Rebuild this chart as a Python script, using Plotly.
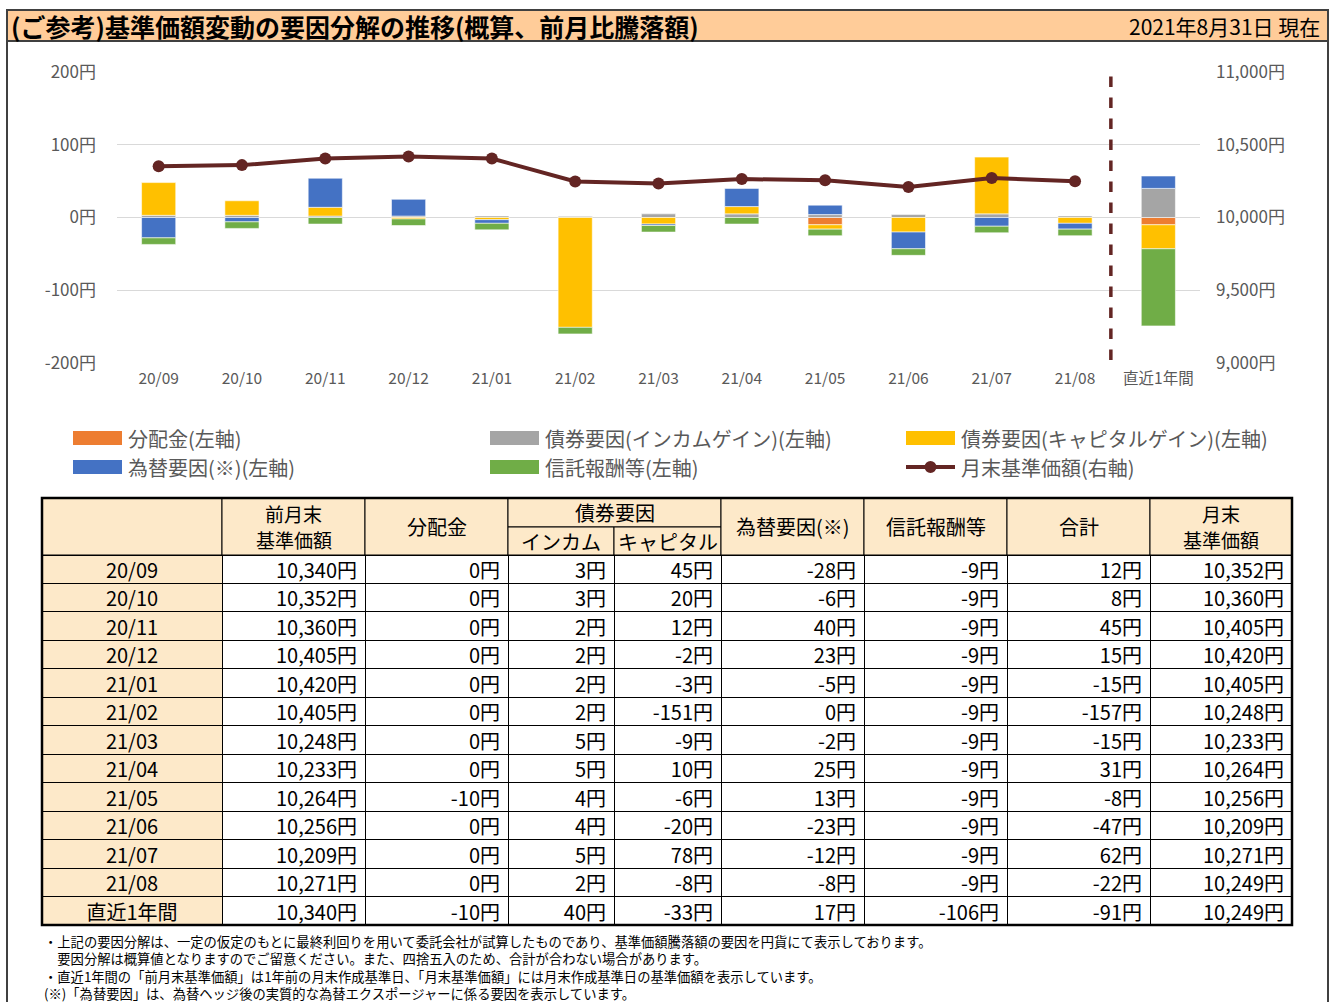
import plotly.graph_objects as go

W, H = 1336, 1002

# ---------------- data ----------------
categories = ["20/09", "20/10", "20/11", "20/12", "21/01", "21/02", "21/03",
              "21/04", "21/05", "21/06", "21/07", "21/08", "直近1年間"]
months = categories[:12]
prev_nav = [10340, 10352, 10360, 10405, 10420, 10405, 10248, 10233, 10264, 10256, 10209, 10271, 10340]
distribution = [0, 0, 0, 0, 0, 0, 0, 0, -10, 0, 0, 0, -10]
bond_income = [3, 3, 2, 2, 2, 2, 5, 5, 4, 4, 5, 2, 40]
bond_capital = [45, 20, 12, -2, -3, -151, -9, 10, -6, -20, 78, -8, -33]
fx_factor = [-28, -6, 40, 23, -5, 0, -2, 25, 13, -23, -12, -8, 17]
trust_fee = [-9, -9, -9, -9, -9, -9, -9, -9, -9, -9, -9, -9, -106]
total = [12, 8, 45, 15, -15, -157, -15, 31, -8, -47, 62, -22, -91]
month_end_nav = [10352, 10360, 10405, 10420, 10405, 10248, 10233, 10264, 10256, 10209, 10271, 10249, 10249]

left_ticks = [-200, -100, 0, 100, 200]
left_ticktext = ["-200円", "-100円", "0円", "100円", "200円"]
right_ticks = [9000, 9500, 10000, 10500, 11000]
right_ticktext = ["9,000円", "9,500円", "10,000円", "10,500円", "11,000円"]

series_names = ["分配金(左軸)", "債券要因(インカムゲイン)(左軸)", "債券要因(キャピタルゲイン)(左軸)",
                "為替要因(※)(左軸)", "信託報酬等(左軸)"]
series_values = [distribution, bond_income, bond_capital, fx_factor, trust_fee]
series_colors = ["#ED7D31", "#A5A5A5", "#FFC000", "#4472C4", "#70AD47"]
line_name = "月末基準価額(右軸)"
line_color = "#632523"

FONT = "Noto Sans CJK JP"
PEACH = "#FFCC99"
CREAM = "#FDE9C9"


def px(x):
    return x / W


def py(y):
    return 1 - y / H


fig = go.Figure()

for name, vals, col in zip(series_names, series_values, series_colors):
    fig.add_trace(go.Bar(x=categories, y=vals, name=name, marker_color=col,
                         marker_line=dict(color="rgba(255,255,255,0.7)", width=0.8),
                         showlegend=False, xaxis="x", yaxis="y"))

fig.add_trace(go.Scatter(x=months, y=month_end_nav[:12], name=line_name, mode="lines+markers",
                         line=dict(color=line_color, width=4),
                         marker=dict(color=line_color, size=12),
                         showlegend=False, xaxis="x", yaxis="y2"))

# ---------------- table ----------------
def yen(v):
    return f"{v:,}円"

cols = [categories,
        [yen(v) for v in prev_nav],
        [yen(v) for v in distribution],
        [yen(v) for v in bond_income],
        [yen(v) for v in bond_capital],
        [yen(v) for v in fx_factor],
        [yen(v) for v in trust_fee],
        [yen(v) for v in total],
        [yen(v) for v in month_end_nav]]

col_edges = [42, 222, 365, 508, 614, 721, 864, 1007, 1150, 1292]
col_widths = [col_edges[i + 1] - col_edges[i] for i in range(len(col_edges) - 1)]
tbl_top, hdr_mid, hdr_bot, tbl_bot = 498, 527, 555, 925
row_h = (tbl_bot - hdr_bot) / len(categories)
n = len(categories)
aligns = ["center"] + ["right"] * 8
cell_font = dict(family=FONT, size=20, color="black")

# first data row is carried by the table header (the real two-level header is drawn separately)
fig.add_trace(go.Table(
    domain=dict(x=[px(col_edges[0]), px(col_edges[-1])], y=[py(975), py(hdr_bot)]),
    columnwidth=col_widths,
    header=dict(values=[[c[0]] for c in cols],
                height=row_h,
                align=aligns,
                fill=dict(color=[CREAM] + ["white"] * 8),
                line=dict(color="black", width=1),
                font=cell_font),
    cells=dict(values=[c[1:] for c in cols],
               height=row_h,
               align=aligns,
               fill=dict(color=[[CREAM] * (n - 1)] + [["white"] * (n - 1)] * 8),
               line=dict(color="black", width=1),
               font=cell_font),
))

shapes = []
annotations = []

# outer frame and title bar
shapes.append(dict(type="rect", xref="paper", yref="paper", x0=px(7), x1=px(1328), y0=py(1003), y1=py(10),
                   line=dict(color="#404040", width=2), fillcolor="rgba(0,0,0,0)", layer="below"))
shapes.append(dict(type="rect", xref="paper", yref="paper", x0=px(7), x1=px(1328), y0=py(41), y1=py(10),
                   line=dict(color="#404040", width=2), fillcolor=PEACH, layer="below"))
annotations.append(dict(xref="paper", yref="paper", x=px(9), y=py(26), xanchor="left", yanchor="middle",
                        text="<b>(ご参考)基準価額変動の要因分解の推移(概算、前月比騰落額)</b>", showarrow=False,
                        font=dict(family=FONT, size=25, color="black")))
annotations.append(dict(xref="paper", yref="paper", x=px(1322), y=py(26), xanchor="right", yanchor="middle",
                        text="2021年8月31日 現在", showarrow=False,
                        font=dict(family=FONT, size=21, color="black")))

# dashed separator before the 1-year column
shapes.append(dict(type="line", xref="x", yref="paper", x0=11.43, x1=11.43, y0=py(360), y1=py(73),
                   line=dict(color=line_color, width=3.5, dash="dash")))

# custom legend
leg_cols = [73, 490, 906]
leg_rows = [438, 467]
legend_items = list(zip(series_names, series_colors)) + [(line_name, None)]
for i, (name, col) in enumerate(legend_items):
    cx = leg_cols[i % 3]
    cy = leg_rows[i // 3]
    if col is not None:
        shapes.append(dict(type="rect", xref="paper", yref="paper", x0=px(cx), x1=px(cx + 49),
                           y0=py(cy + 7), y1=py(cy - 7), fillcolor=col, line=dict(width=0)))
    else:
        shapes.append(dict(type="line", xref="paper", yref="paper", x0=px(cx), x1=px(cx + 49),
                           y0=py(cy), y1=py(cy), line=dict(color=line_color, width=4)))
        shapes.append(dict(type="circle", xref="paper", yref="paper", x0=px(cx + 18.5), x1=px(cx + 30.5),
                           y0=py(cy + 6), y1=py(cy - 6), fillcolor=line_color, line=dict(width=0)))
    annotations.append(dict(xref="paper", yref="paper", x=px(cx + 53), y=py(cy), xanchor="left",
                            yanchor="middle", text=name, showarrow=False,
                            font=dict(family=FONT, size=20, color="#595959")))

# table header (two levels, merged cells)
def hdr_cell(x0, x1, y0, y1, lines):
    shapes.append(dict(type="rect", xref="paper", yref="paper", x0=px(x0), x1=px(x1), y0=py(y1), y1=py(y0),
                       fillcolor=CREAM, line=dict(color="black", width=1)))
    k = len(lines)
    step = 26
    yc = (y0 + y1) / 2
    for j, t in enumerate(lines):
        yy = yc + (j - (k - 1) / 2) * step
        annotations.append(dict(xref="paper", yref="paper", x=px((x0 + x1) / 2), y=py(yy),
                                xanchor="center", yanchor="middle", text=t, showarrow=False,
                                font=dict(family=FONT, size=19 if k > 1 else 20, color="black")))

hdr_cell(col_edges[0], col_edges[1], tbl_top, hdr_bot, [])
hdr_cell(col_edges[1], col_edges[2], tbl_top, hdr_bot, ["前月末", "基準価額"])
hdr_cell(col_edges[2], col_edges[3], tbl_top, hdr_bot, ["分配金"])
hdr_cell(col_edges[3], col_edges[5], tbl_top, hdr_mid, ["債券要因"])
hdr_cell(col_edges[3], col_edges[4], hdr_mid, hdr_bot, ["インカム"])
hdr_cell(col_edges[4], col_edges[5], hdr_mid, hdr_bot, ["キャピタル"])
hdr_cell(col_edges[5], col_edges[6], tbl_top, hdr_bot, ["為替要因(※)"])
hdr_cell(col_edges[6], col_edges[7], tbl_top, hdr_bot, ["信託報酬等"])
hdr_cell(col_edges[7], col_edges[8], tbl_top, hdr_bot, ["合計"])
hdr_cell(col_edges[8], col_edges[9], tbl_top, hdr_bot, ["月末", "基準価額"])

# thick outer border of the table
shapes.append(dict(type="rect", xref="paper", yref="paper", x0=px(col_edges[0]), x1=px(col_edges[-1]),
                   y0=py(tbl_bot), y1=py(tbl_top), line=dict(color="black", width=2.5),
                   fillcolor="rgba(0,0,0,0)"))

# footnotes (one block, four lines)
notes = [
    "・上記の要因分解は、一定の仮定のもとに最終利回りを用いて委託会社が試算したものであり、基準価額騰落額の要因を円貨にて表示しております。",
    "　要因分解は概算値となりますのでご留意ください。また、四捨五入のため、合計が合わない場合があります。",
    "・直近1年間の「前月末基準価額」は1年前の月末作成基準日、「月末基準価額」には月末作成基準日の基準価額を表示しています。",
    "(※)「為替要因」は、為替ヘッジ後の実質的な為替エクスポージャーに係る要因を表示しています。",
]
annotations.append(dict(xref="paper", yref="paper", x=px(43), y=py(930.5), xanchor="left", yanchor="top",
                        align="left", text="<br>".join(notes), showarrow=False, borderpad=0,
                        font=dict(family=FONT, size=13.3, color="black")))

fig.update_layout(
    width=W, height=H,
    margin=dict(l=0, r=0, t=0, b=0, pad=0, autoexpand=False),
    paper_bgcolor="white", plot_bgcolor="white",
    barmode="relative", bargap=0.59,
    showlegend=False,
    font=dict(family=FONT),
    xaxis=dict(domain=[px(117), px(1200)], type="category", range=[-0.5, 12.5], autorange=False,
               automargin=False, showgrid=False, zeroline=False,
               showline=False, ticks="", tickfont=dict(size=15.5, color="#595959"), ticklabelstandoff=4),
    yaxis=dict(domain=[py(363), py(72)], range=[-200, 200], autorange=False, automargin=False,
               tickmode="array", tickvals=left_ticks, ticktext=left_ticktext,
               showgrid=True, gridcolor="#D9D9D9", gridwidth=1, zeroline=False, showline=False,
               tickfont=dict(size=17, color="#595959"), ticklabelstandoff=20),
    yaxis2=dict(domain=[py(363), py(72)], range=[9000, 11000], autorange=False, automargin=False,
                tickmode="array", tickvals=right_ticks,
                ticktext=right_ticktext, overlaying="y", side="right", showgrid=False, zeroline=False,
                showline=False, tickfont=dict(size=17, color="#595959"), ticklabelstandoff=15),
    shapes=shapes,
    annotations=annotations,
)

post = ("document.documentElement.style.margin='0';document.body.style.margin='0';"
        "document.body.style.overflow='hidden';"
        "var gd=document.getElementById('{plot_id}');gd.style.position='absolute';"
        "gd.style.top='0px';gd.style.left='0px';")
fig.write_html("out.html", post_script=post, config={"displayModeBar": False})
